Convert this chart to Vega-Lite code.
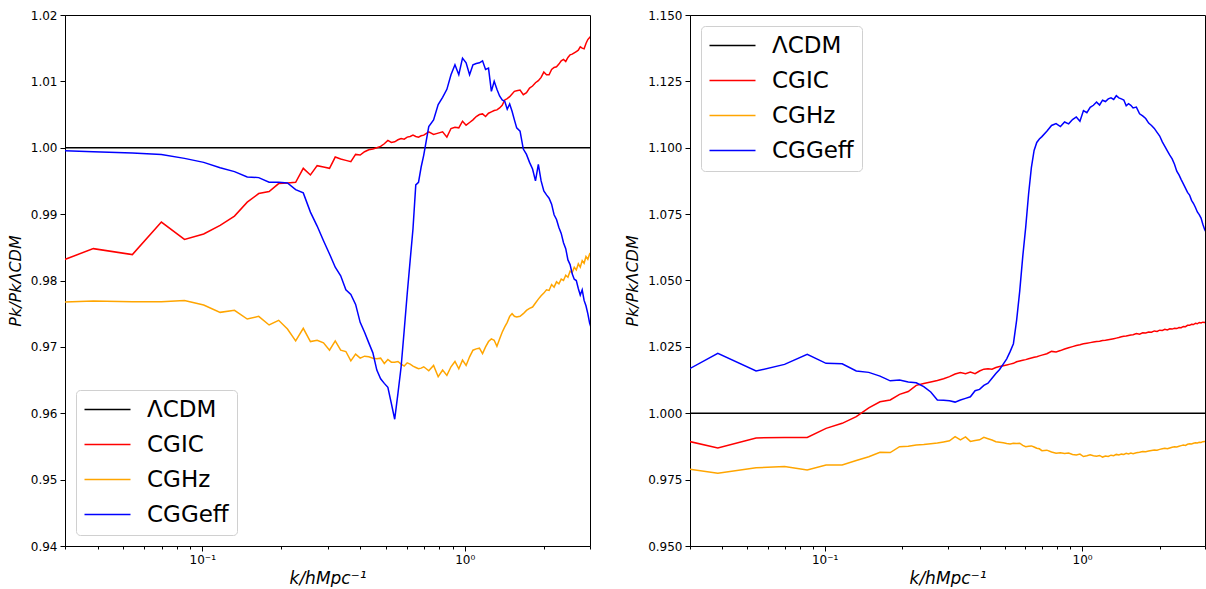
{
 "$schema": "https://vega.github.io/schema/vega-lite/v6.json",
 "background": "white",
 "padding": {"left": 6, "top": 8, "right": 0, "bottom": 0},
 "config": {
  "font": "DejaVu Sans",
  "view": {"stroke": "black", "strokeWidth": 1},
  "axis": {"grid": false, "domainColor": "black", "tickColor": "black", "labelColor": "black", "titleColor": "black", "labelFont": "DejaVu Sans", "labelFontSize": 12, "titleFont": "DejaVu Sans", "titleFontSize": 16, "titleFontWeight": "normal", "titleFontStyle": "italic", "tickSize": 5, "labelPadding": 3},
  "legend": {"labelFontSize": 23, "labelFont": "DejaVu Sans", "labelColor": "black", "symbolType": "M-2.3,0H2.3", "symbolSize": 400, "symbolStrokeWidth": 1.5, "symbolOffset": 12, "labelOffset": 28, "fillColor": "white", "strokeColor": "#d0d0d0", "cornerRadius": 4, "padding": 8, "rowPadding": 11, "offset": 11}
 },
 "datasets": {
  "L": [
   {"k":0.02277,"ΛCDM":1,"CGIC":0.9814,"CGHz":0.9766,"CGGeff":0.9997},
   {"k":0.03847,"CGIC":0.9848,"CGHz":0.9769,"CGGeff":0.9994},
   {"k":0.05417,"CGIC":0.9839,"CGHz":0.9768,"CGGeff":0.9992},
   {"k":0.06987,"CGIC":0.9888,"CGHz":0.9768,"CGGeff":0.9990},
   {"k":0.08557,"CGIC":0.9862,"CGHz":0.9770,"CGGeff":0.9984},
   {"k":0.10127,"CGIC":0.9870,"CGHz":0.9763,"CGGeff":0.9978},
   {"k":0.11697,"CGIC":0.9883,"CGHz":0.9752,"CGGeff":0.9970},
   {"k":0.13267,"CGIC":0.9897,"CGHz":0.9755,"CGGeff":0.9964},
   {"k":0.14837,"CGIC":0.9918,"CGHz":0.9742,"CGGeff":0.9956},
   {"k":0.16407,"CGIC":0.9931,"CGHz":0.9746,"CGGeff":0.9955},
   {"k":0.17977,"CGIC":0.9934,"CGHz":0.9733,"CGGeff":0.9948},
   {"k":0.19547,"CGIC":0.9946,"CGHz":0.9740,"CGGeff":0.9948},
   {"k":0.21117,"CGIC":0.9947,"CGHz":0.9727,"CGGeff":0.9947},
   {"k":0.22687,"CGIC":0.9948,"CGHz":0.9709,"CGGeff":0.9937},
   {"k":0.24257,"CGIC":0.9969,"CGHz":0.9728,"CGGeff":0.9932},
   {"k":0.25827,"CGIC":0.9959,"CGHz":0.9708,"CGGeff":0.9903},
   {"k":0.27397,"CGIC":0.9973,"CGHz":0.9710,"CGGeff":0.9882},
   {"k":0.28967,"CGIC":0.9971,"CGHz":0.9706,"CGGeff":0.9860},
   {"k":0.30537,"CGIC":0.9969,"CGHz":0.9695,"CGGeff":0.9840},
   {"k":0.32107,"CGIC":0.9986,"CGHz":0.9709,"CGGeff":0.9820},
   {"k":0.33677,"CGIC":0.9983,"CGHz":0.9695,"CGGeff":0.9807},
   {"k":0.35247,"CGIC":0.9981,"CGHz":0.9693,"CGGeff":0.9786},
   {"k":0.36817,"CGIC":0.9979,"CGHz":0.9679,"CGGeff":0.9779},
   {"k":0.38387,"CGIC":0.9990,"CGHz":0.9689,"CGGeff":0.9764},
   {"k":0.39957,"CGIC":0.9989,"CGHz":0.9683,"CGGeff":0.9737},
   {"k":0.41527,"CGIC":0.9994,"CGHz":0.9686,"CGGeff":0.9722},
   {"k":0.43097,"CGIC":0.9997,"CGHz":0.9685,"CGGeff":0.9706},
   {"k":0.44667,"CGIC":0.9998,"CGHz":0.9683,"CGGeff":0.9691},
   {"k":0.46237,"CGIC":1.0000,"CGHz":0.9682,"CGGeff":0.9665},
   {"k":0.47807,"CGIC":1.0002,"CGHz":0.9683,"CGGeff":0.9652},
   {"k":0.49377,"CGIC":1.0006,"CGHz":0.9675,"CGGeff":0.9645},
   {"k":0.50947,"CGIC":1.0011,"CGHz":0.9681,"CGGeff":0.9639},
   {"k":0.52517,"CGIC":1.0008,"CGHz":0.9677,"CGGeff":0.9615},
   {"k":0.54087,"CGIC":1.0009,"CGHz":0.9677,"CGGeff":0.9591},
   {"k":0.55657,"CGIC":1.0012,"CGHz":0.9678,"CGGeff":0.9630},
   {"k":0.57227,"CGIC":1.0014,"CGHz":0.9674,"CGGeff":0.9670},
   {"k":0.58797,"CGIC":1.0013,"CGHz":0.9671,"CGGeff":0.9725},
   {"k":0.60367,"CGIC":1.0016,"CGHz":0.9676,"CGGeff":0.9780},
   {"k":0.61937,"CGIC":1.0017,"CGHz":0.9674,"CGGeff":0.9830},
   {"k":0.63507,"CGIC":1.0019,"CGHz":0.9671,"CGGeff":0.9878},
   {"k":0.65077,"CGIC":1.0017,"CGHz":0.9669,"CGGeff":0.9944},
   {"k":0.66647,"CGIC":1.0016,"CGHz":0.9667,"CGGeff":0.9948},
   {"k":0.68217,"CGIC":1.0018,"CGHz":0.9668,"CGGeff":0.9971},
   {"k":0.69787,"CGIC":1.0019,"CGHz":0.9670,"CGGeff":0.9989},
   {"k":0.72927,"CGIC":1.0024,"CGHz":0.9664,"CGGeff":1.0032},
   {"k":0.76067,"CGIC":1.0020,"CGHz":0.9672,"CGGeff":1.0042},
   {"k":0.79207,"CGIC":1.0022,"CGHz":0.9655,"CGGeff":1.0065},
   {"k":0.82347,"CGIC":1.0024,"CGHz":0.9665,"CGGeff":1.0076},
   {"k":0.85487,"CGIC":1.0016,"CGHz":0.9657,"CGGeff":1.0088},
   {"k":0.88627,"CGIC":1.0029,"CGHz":0.9670,"CGGeff":1.0110},
   {"k":0.91767,"CGIC":1.0031,"CGHz":0.9678,"CGGeff":1.0125},
   {"k":0.94907,"CGIC":1.0030,"CGHz":0.9667,"CGGeff":1.0110},
   {"k":0.98047,"CGIC":1.0040,"CGHz":0.9680,"CGGeff":1.0135},
   {"k":1.01187,"CGIC":1.0034,"CGHz":0.9672,"CGGeff":1.0128},
   {"k":1.04327,"CGIC":1.0038,"CGHz":0.9685,"CGGeff":1.0110},
   {"k":1.07467,"CGIC":1.0042,"CGHz":0.9695,"CGGeff":1.0125},
   {"k":1.10607,"CGIC":1.0047,"CGHz":0.9697,"CGGeff":1.0127},
   {"k":1.13747,"CGIC":1.0050,"CGHz":0.9698,"CGGeff":1.0128},
   {"k":1.16887,"CGIC":1.0051,"CGHz":0.9690,"CGGeff":1.0131},
   {"k":1.20027,"CGIC":1.0047,"CGHz":0.9700,"CGGeff":1.0118},
   {"k":1.23167,"CGIC":1.0052,"CGHz":0.9708,"CGGeff":1.0120},
   {"k":1.26307,"CGIC":1.0054,"CGHz":0.9712,"CGGeff":1.0085},
   {"k":1.29447,"CGIC":1.0056,"CGHz":0.9710,"CGGeff":1.0100},
   {"k":1.32587,"CGIC":1.0057,"CGHz":0.9701,"CGGeff":1.0088},
   {"k":1.35727,"CGIC":1.0060,"CGHz":0.9712,"CGGeff":1.0078},
   {"k":1.38867,"CGIC":1.0064,"CGHz":0.9722,"CGGeff":1.0072},
   {"k":1.42007,"CGIC":1.0072,"CGHz":0.9730,"CGGeff":1.0070},
   {"k":1.45147,"CGIC":1.0074,"CGHz":0.9737,"CGGeff":1.0058},
   {"k":1.48287,"CGIC":1.0077,"CGHz":0.9746,"CGGeff":1.0066},
   {"k":1.51427,"CGIC":1.0081,"CGHz":0.9750,"CGGeff":1.0055},
   {"k":1.54567,"CGIC":1.0085,"CGHz":0.9746,"CGGeff":1.0042},
   {"k":1.57707,"CGIC":1.0086,"CGHz":0.9745,"CGGeff":1.0030},
   {"k":1.62417,"CGIC":1.0087,"CGHz":0.9746,"CGGeff":1.0025},
   {"k":1.67127,"CGIC":1.0080,"CGHz":0.9750,"CGGeff":0.9998},
   {"k":1.71837,"CGIC":1.0083,"CGHz":0.9755,"CGGeff":0.9990},
   {"k":1.76547,"CGIC":1.0090,"CGHz":0.9758,"CGGeff":0.9978},
   {"k":1.81257,"CGIC":1.0093,"CGHz":0.9760,"CGGeff":0.9968},
   {"k":1.85967,"CGIC":1.0098,"CGHz":0.9766,"CGGeff":0.9950},
   {"k":1.90677,"CGIC":1.0101,"CGHz":0.9772,"CGGeff":0.9975},
   {"k":1.95387,"CGIC":1.0106,"CGHz":0.9777,"CGGeff":0.9950},
   {"k":2.00097,"CGIC":1.0114,"CGHz":0.9781,"CGGeff":0.9935},
   {"k":2.04807,"CGIC":1.0110,"CGHz":0.9786,"CGGeff":0.9929},
   {"k":2.09517,"CGIC":1.0110,"CGHz":0.9785,"CGGeff":0.9924},
   {"k":2.14227,"CGIC":1.0118,"CGHz":0.9794,"CGGeff":0.9915},
   {"k":2.18937,"CGIC":1.0121,"CGHz":0.9790,"CGGeff":0.9899},
   {"k":2.23647,"CGIC":1.0122,"CGHz":0.9798,"CGGeff":0.9892},
   {"k":2.28357,"CGIC":1.0126,"CGHz":0.9795,"CGGeff":0.9880},
   {"k":2.33067,"CGIC":1.0131,"CGHz":0.9802,"CGGeff":0.9871},
   {"k":2.37777,"CGIC":1.0133,"CGHz":0.9800,"CGGeff":0.9857},
   {"k":2.42487,"CGIC":1.0130,"CGHz":0.9808,"CGGeff":0.9848},
   {"k":2.47197,"CGIC":1.0136,"CGHz":0.9805,"CGGeff":0.9831},
   {"k":2.51907,"CGIC":1.0140,"CGHz":0.9814,"CGGeff":0.9824},
   {"k":2.56617,"CGIC":1.0141,"CGHz":0.9812,"CGGeff":0.9810},
   {"k":2.61327,"CGIC":1.0143,"CGHz":0.9820,"CGGeff":0.9802},
   {"k":2.66037,"CGIC":1.0145,"CGHz":0.9816,"CGGeff":0.9800},
   {"k":2.70747,"CGIC":1.0147,"CGHz":0.9825,"CGGeff":0.9788},
   {"k":2.75457,"CGIC":1.0152,"CGHz":0.9820,"CGGeff":0.9778},
   {"k":2.80167,"CGIC":1.0150,"CGHz":0.9830,"CGGeff":0.9786},
   {"k":2.84877,"CGIC":1.0149,"CGHz":0.9826,"CGGeff":0.9770},
   {"k":2.89587,"CGIC":1.0157,"CGHz":0.9836,"CGGeff":0.9762},
   {"k":2.94297,"CGIC":1.0163,"CGHz":0.9832,"CGGeff":0.9750},
   {"k":2.99007,"CGIC":1.0166,"CGHz":0.9840,"CGGeff":0.9736},
   {"k":3.02147,"ΛCDM":1,"CGIC":1.0168,"CGHz":0.9838,"CGGeff":0.9730}
  ],
  "R": [
   {"k":0.02277,"ΛCDM":1,"CGIC":0.9920,"CGHz":0.9806,"CGGeff":1.0105},
   {"k":0.03847,"CGIC":0.9869,"CGHz":0.9774,"CGGeff":1.0226},
   {"k":0.05417,"CGIC":0.9907,"CGHz":0.9795,"CGGeff":1.0159},
   {"k":0.06987,"CGIC":0.9909,"CGHz":0.9799,"CGGeff":1.0184},
   {"k":0.08557,"CGIC":0.9909,"CGHz":0.9786,"CGGeff":1.0222},
   {"k":0.10127,"CGIC":0.9943,"CGHz":0.9805,"CGGeff":1.0188},
   {"k":0.11697,"CGIC":0.9962,"CGHz":0.9805,"CGGeff":1.0186},
   {"k":0.13267,"CGIC":0.9987,"CGHz":0.9822,"CGGeff":1.0159},
   {"k":0.14837,"CGIC":1.0020,"CGHz":0.9836,"CGGeff":1.0154},
   {"k":0.16407,"CGIC":1.0043,"CGHz":0.9853,"CGGeff":1.0140},
   {"k":0.17977,"CGIC":1.0050,"CGHz":0.9852,"CGGeff":1.0122},
   {"k":0.19547,"CGIC":1.0071,"CGHz":0.9874,"CGGeff":1.0125},
   {"k":0.21117,"CGIC":1.0082,"CGHz":0.9876,"CGGeff":1.0118},
   {"k":0.22687,"CGIC":1.0105,"CGHz":0.9880,"CGGeff":1.0115},
   {"k":0.24257,"CGIC":1.0112,"CGHz":0.9882,"CGGeff":1.0100},
   {"k":0.25827,"CGIC":1.0118,"CGHz":0.9885,"CGGeff":1.0080},
   {"k":0.27397,"CGIC":1.0123,"CGHz":0.9888,"CGGeff":1.0050},
   {"k":0.28967,"CGIC":1.0130,"CGHz":0.9892,"CGGeff":1.0049},
   {"k":0.30537,"CGIC":1.0138,"CGHz":0.9896,"CGGeff":1.0047},
   {"k":0.32107,"CGIC":1.0148,"CGHz":0.9912,"CGGeff":1.0042},
   {"k":0.33677,"CGIC":1.0153,"CGHz":0.9900,"CGGeff":1.0050},
   {"k":0.35247,"CGIC":1.0149,"CGHz":0.9911,"CGGeff":1.0056},
   {"k":0.36817,"CGIC":1.0155,"CGHz":0.9894,"CGGeff":1.0062},
   {"k":0.38387,"CGIC":1.0149,"CGHz":0.9897,"CGGeff":1.0085},
   {"k":0.39957,"CGIC":1.0159,"CGHz":0.9900,"CGGeff":1.0090},
   {"k":0.41527,"CGIC":1.0166,"CGHz":0.9909,"CGGeff":1.0105},
   {"k":0.43097,"CGIC":1.0168,"CGHz":0.9904,"CGGeff":1.0113},
   {"k":0.44667,"CGIC":1.0166,"CGHz":0.9899,"CGGeff":1.0132},
   {"k":0.46237,"CGIC":1.0172,"CGHz":0.9893,"CGGeff":1.0150},
   {"k":0.47807,"CGIC":1.0176,"CGHz":0.9891,"CGGeff":1.0165},
   {"k":0.49377,"CGIC":1.0179,"CGHz":0.9889,"CGGeff":1.0185},
   {"k":0.50947,"CGIC":1.0182,"CGHz":0.9886,"CGGeff":1.0205},
   {"k":0.52517,"CGIC":1.0185,"CGHz":0.9884,"CGGeff":1.0232},
   {"k":0.54087,"CGIC":1.0188,"CGHz":0.9887,"CGGeff":1.0262},
   {"k":0.55657,"CGIC":1.0194,"CGHz":0.9886,"CGGeff":1.0350},
   {"k":0.57227,"CGIC":1.0197,"CGHz":0.9887,"CGGeff":1.0460},
   {"k":0.58797,"CGIC":1.0200,"CGHz":0.9879,"CGGeff":1.0590},
   {"k":0.60367,"CGIC":1.0202,"CGHz":0.9874,"CGGeff":1.0700},
   {"k":0.61937,"CGIC":1.0205,"CGHz":0.9876,"CGGeff":1.0825},
   {"k":0.63507,"CGIC":1.0208,"CGHz":0.9877,"CGGeff":1.0925},
   {"k":0.65077,"CGIC":1.0211,"CGHz":0.9873,"CGGeff":1.0990},
   {"k":0.66647,"CGIC":1.0213,"CGHz":0.9868,"CGGeff":1.1020},
   {"k":0.68217,"CGIC":1.0216,"CGHz":0.9866,"CGGeff":1.1033},
   {"k":0.69787,"CGIC":1.0219,"CGHz":0.9859,"CGGeff":1.1042},
   {"k":0.72927,"CGIC":1.0224,"CGHz":0.9861,"CGGeff":1.1062},
   {"k":0.76067,"CGIC":1.0233,"CGHz":0.9854,"CGGeff":1.1084},
   {"k":0.79207,"CGIC":1.0231,"CGHz":0.9849,"CGGeff":1.1091},
   {"k":0.82347,"CGIC":1.0236,"CGHz":0.9851,"CGGeff":1.1080},
   {"k":0.85487,"CGIC":1.0242,"CGHz":0.9848,"CGGeff":1.1097},
   {"k":0.88627,"CGIC":1.0247,"CGHz":0.9850,"CGGeff":1.1090},
   {"k":0.91767,"CGIC":1.0251,"CGHz":0.9845,"CGGeff":1.1106},
   {"k":0.94907,"CGIC":1.0255,"CGHz":0.9843,"CGGeff":1.1116},
   {"k":0.98047,"CGIC":1.0258,"CGHz":0.9846,"CGGeff":1.1100},
   {"k":1.01187,"CGIC":1.0262,"CGHz":0.9837,"CGGeff":1.1140},
   {"k":1.04327,"CGIC":1.0264,"CGHz":0.9840,"CGGeff":1.1132},
   {"k":1.07467,"CGIC":1.0266,"CGHz":0.9844,"CGGeff":1.1152},
   {"k":1.10607,"CGIC":1.0268,"CGHz":0.9840,"CGGeff":1.1160},
   {"k":1.13747,"CGIC":1.0270,"CGHz":0.9838,"CGGeff":1.1172},
   {"k":1.16887,"CGIC":1.0271,"CGHz":0.9841,"CGGeff":1.1161},
   {"k":1.20027,"CGIC":1.0274,"CGHz":0.9835,"CGGeff":1.1179},
   {"k":1.23167,"CGIC":1.0275,"CGHz":0.9839,"CGGeff":1.1174},
   {"k":1.26307,"CGIC":1.0277,"CGHz":0.9837,"CGGeff":1.1184},
   {"k":1.29447,"CGIC":1.0279,"CGHz":0.9842,"CGGeff":1.1188},
   {"k":1.32587,"CGIC":1.0281,"CGHz":0.9840,"CGGeff":1.1182},
   {"k":1.35727,"CGIC":1.0283,"CGHz":0.9845,"CGGeff":1.1196},
   {"k":1.38867,"CGIC":1.0285,"CGHz":0.9843,"CGGeff":1.1188},
   {"k":1.42007,"CGIC":1.0288,"CGHz":0.9846,"CGGeff":1.1184},
   {"k":1.45147,"CGIC":1.0290,"CGHz":0.9845,"CGGeff":1.1180},
   {"k":1.48287,"CGIC":1.0291,"CGHz":0.9849,"CGGeff":1.1158},
   {"k":1.51427,"CGIC":1.0293,"CGHz":0.9847,"CGGeff":1.1166},
   {"k":1.54567,"CGIC":1.0295,"CGHz":0.9850,"CGGeff":1.1160},
   {"k":1.57707,"CGIC":1.0296,"CGHz":0.9848,"CGGeff":1.1150},
   {"k":1.62417,"CGIC":1.0300,"CGHz":0.9851,"CGGeff":1.1153},
   {"k":1.67127,"CGIC":1.0298,"CGHz":0.9853,"CGGeff":1.1128},
   {"k":1.71837,"CGIC":1.0303,"CGHz":0.9856,"CGGeff":1.1120},
   {"k":1.76547,"CGIC":1.0302,"CGHz":0.9855,"CGGeff":1.1110},
   {"k":1.81257,"CGIC":1.0306,"CGHz":0.9858,"CGGeff":1.1093},
   {"k":1.85967,"CGIC":1.0305,"CGHz":0.9860,"CGGeff":1.1084},
   {"k":1.90677,"CGIC":1.0310,"CGHz":0.9862,"CGGeff":1.1073},
   {"k":1.95387,"CGIC":1.0308,"CGHz":0.9861,"CGGeff":1.1058},
   {"k":2.00097,"CGIC":1.0313,"CGHz":0.9864,"CGGeff":1.1044},
   {"k":2.04807,"CGIC":1.0312,"CGHz":0.9866,"CGGeff":1.1022},
   {"k":2.09517,"CGIC":1.0316,"CGHz":0.9868,"CGGeff":1.1005},
   {"k":2.14227,"CGIC":1.0314,"CGHz":0.9866,"CGGeff":1.0988},
   {"k":2.18937,"CGIC":1.0318,"CGHz":0.9869,"CGGeff":1.0972},
   {"k":2.23647,"CGIC":1.0317,"CGHz":0.9872,"CGGeff":1.0958},
   {"k":2.28357,"CGIC":1.0320,"CGHz":0.9874,"CGGeff":1.0938},
   {"k":2.33067,"CGIC":1.0319,"CGHz":0.9873,"CGGeff":1.0912},
   {"k":2.37777,"CGIC":1.0323,"CGHz":0.9876,"CGGeff":1.0898},
   {"k":2.42487,"CGIC":1.0322,"CGHz":0.9878,"CGGeff":1.0880},
   {"k":2.47197,"CGIC":1.0327,"CGHz":0.9880,"CGGeff":1.0864},
   {"k":2.51907,"CGIC":1.0326,"CGHz":0.9879,"CGGeff":1.0848},
   {"k":2.56617,"CGIC":1.0331,"CGHz":0.9883,"CGGeff":1.0832},
   {"k":2.61327,"CGIC":1.0331,"CGHz":0.9885,"CGGeff":1.0822},
   {"k":2.66037,"CGIC":1.0335,"CGHz":0.9884,"CGGeff":1.0802},
   {"k":2.70747,"CGIC":1.0334,"CGHz":0.9887,"CGGeff":1.0790},
   {"k":2.75457,"CGIC":1.0339,"CGHz":0.9889,"CGGeff":1.0775},
   {"k":2.80167,"CGIC":1.0337,"CGHz":0.9888,"CGGeff":1.0758},
   {"k":2.84877,"CGIC":1.0342,"CGHz":0.9891,"CGGeff":1.0748},
   {"k":2.89587,"CGIC":1.0340,"CGHz":0.9890,"CGGeff":1.0735},
   {"k":2.94297,"CGIC":1.0343,"CGHz":0.9893,"CGGeff":1.0712},
   {"k":2.99007,"CGIC":1.0342,"CGHz":0.9894,"CGGeff":1.0692},
   {"k":3.02147,"ΛCDM":1,"CGIC":1.0343,"CGHz":0.9894,"CGGeff":1.0684}
  ]
 },
 "bounds": "flush",
 "spacing": 100,
 "resolve": {"scale": {"x": "independent", "y": "independent", "color": "independent"}, "legend": {"color": "independent"}},
 "hconcat": [
  {
   "width": 525,
   "height": 531,
   "data": {"name": "L"},
   "transform": [
    {"fold": ["ΛCDM", "CGIC", "CGHz", "CGGeff"], "as": ["model", "ratio"]},
    {"filter": "isValid(datum.ratio)"}
   ],
   "mark": {"type": "line", "clip": true, "strokeWidth": 1.5},
   "encoding": {
    "x": {"field": "k", "type": "quantitative", "scale": {"type": "log", "domain": [0.03, 3], "nice": false},
     "axis": {"values": [0.03,0.04,0.05,0.06,0.07,0.08,0.09,0.1,0.2,0.3,0.4,0.5,0.6,0.7,0.8,0.9,1,2,3],
      "labelExpr": "datum.value == 0.1 ? '10⁻¹' : (datum.value == 1 ? '10⁰' : '')",
      "tickSize": {"condition": {"test": "datum.value == 0.1 || datum.value == 1", "value": 5}, "value": 3},
      "labelOverlap": false, "labelFlush": false, "title": "k/hMpc⁻¹", "titleFontSize": 17, "titlePadding": 5, "labelPadding": 3}},
    "y": {"field": "ratio", "type": "quantitative", "scale": {"domain": [0.94, 1.02], "nice": false, "zero": false},
     "axis": {"values": [0.94,0.95,0.96,0.97,0.98,0.99,1.0,1.01,1.02], "format": ".2f", "title": "Pk/PkΛCDM", "titlePadding": 7, "labelOverlap": false, "labelFlush": false}},
    "color": {"field": "model", "type": "nominal",
     "scale": {"domain": ["ΛCDM", "CGIC", "CGHz", "CGGeff"], "range": ["black", "red", "orange", "blue"]},
     "legend": {"orient": "bottom-left", "title": null}}
   }
  },
  {
   "width": 515,
   "height": 531,
   "data": {"name": "R"},
   "transform": [
    {"fold": ["ΛCDM", "CGIC", "CGHz", "CGGeff"], "as": ["model", "ratio"]},
    {"filter": "isValid(datum.ratio)"}
   ],
   "mark": {"type": "line", "clip": true, "strokeWidth": 1.5},
   "encoding": {
    "x": {"field": "k", "type": "quantitative", "scale": {"type": "log", "domain": [0.03, 3], "nice": false},
     "axis": {"values": [0.03,0.04,0.05,0.06,0.07,0.08,0.09,0.1,0.2,0.3,0.4,0.5,0.6,0.7,0.8,0.9,1,2,3],
      "labelExpr": "datum.value == 0.1 ? '10⁻¹' : (datum.value == 1 ? '10⁰' : '')",
      "tickSize": {"condition": {"test": "datum.value == 0.1 || datum.value == 1", "value": 5}, "value": 3},
      "labelOverlap": false, "labelFlush": false, "title": "k/hMpc⁻¹", "titleFontSize": 17, "titlePadding": 5, "labelPadding": 3}},
    "y": {"field": "ratio", "type": "quantitative", "scale": {"domain": [0.95, 1.15], "nice": false, "zero": false},
     "axis": {"values": [0.95,0.975,1.0,1.025,1.05,1.075,1.1,1.125,1.15], "format": ".3f", "title": "Pk/PkΛCDM", "titlePadding": 7, "labelOverlap": false, "labelFlush": false}},
    "color": {"field": "model", "type": "nominal",
     "scale": {"domain": ["ΛCDM", "CGIC", "CGHz", "CGGeff"], "range": ["black", "red", "orange", "blue"]},
     "legend": {"orient": "top-left", "title": null}}
   }
  }
 ]
}
